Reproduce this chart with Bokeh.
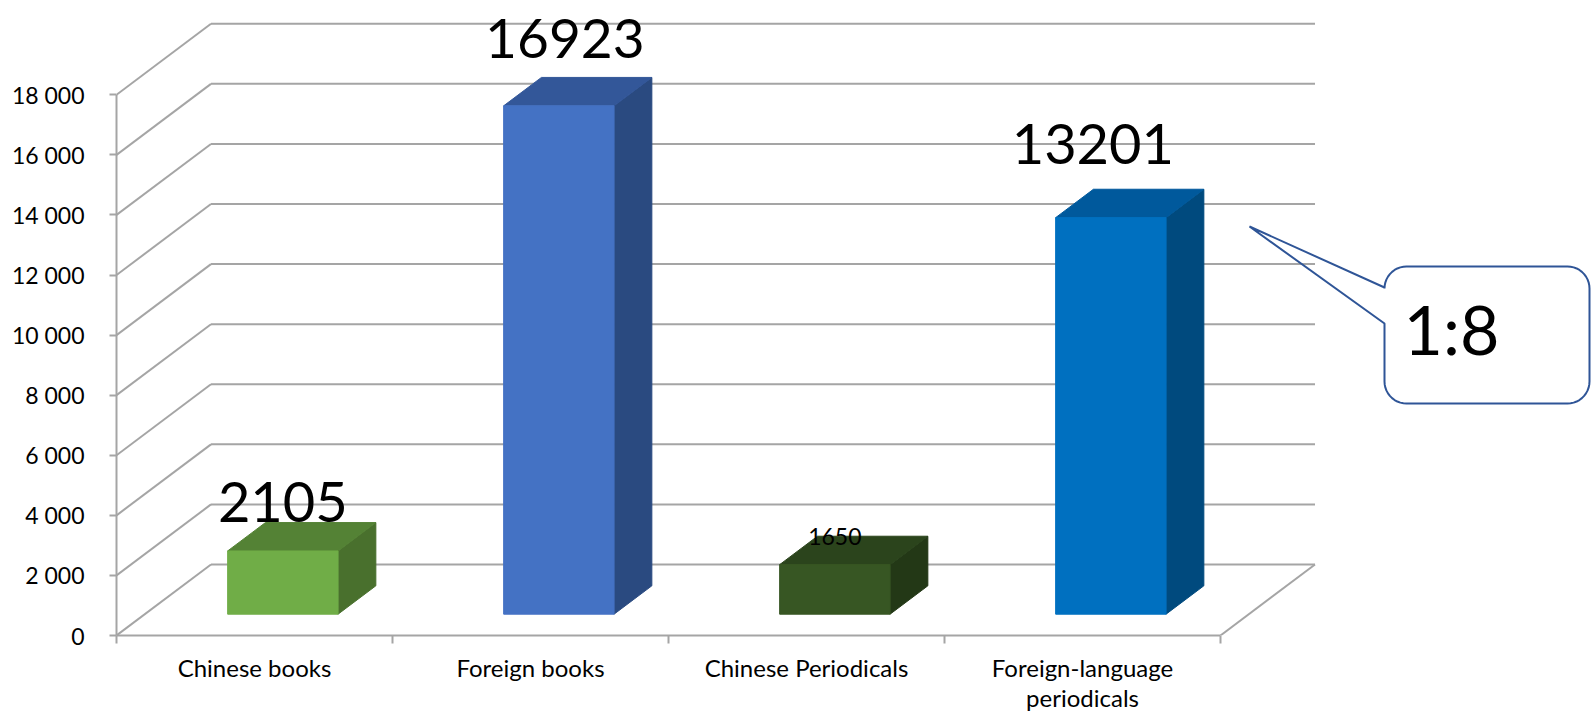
import numpy as np
from bokeh.plotting import figure
from bokeh.models import Range1d, FixedTicker
from bokeh.core.properties import value
from bokeh.embed import file_html
from bokeh.resources import INLINE

# ---------------- data ----------------
categories = ["Chinese books", "Foreign books", "Chinese Periodicals",
              "Foreign-language\nperiodicals"]
values = [2105, 16923, 1650, 13201]
value_labels = ["2105", "16923", "1650", "13201"]
y_ticks = [0, 2000, 4000, 6000, 8000, 10000, 12000, 14000, 16000, 18000]
y_tick_labels = ["0", "2 000", "4 000", "6 000", "8 000", "10 000",
                 "12 000", "14 000", "16 000", "18 000"]
callout_text = "1:8"

# ---------------- style ----------------
front_colors = ["#70AD47", "#4472C4", "#375623", "#0070C0"]
top_colors = ["#548235", "#335799", "#2B441C", "#00599C"]
side_colors = ["#49702D", "#2A4A80", "#233816", "#004A7E"]
label_sizes = [56, 55, 23, 56]
label_dx_px = [0, 6, 0, -18]      # label nudges in pixels
label_dy_px = [0, 19, -9, 25]
BASE_FIX = 0.37                   # em correction for text baseline
GRID = "#A5A5A5"
FONT = "Lato"

W, H = 1593, 714
LEFT, BOTTOM = 116, 79
PX_CAT = 276.0          # pixels per category
PX_VAL = 0.03004        # pixels per value unit
DEPTH_PX_X, DEPTH_PX_Y = 94.5, 71.0
DX = DEPTH_PX_X / PX_CAT
DY = DEPTH_PX_Y / PX_VAL
Z0, Z1 = 0.30, 0.70     # bar depth (fraction of floor depth)
BAR_W = 0.40

n = len(categories)
xmax = (W - LEFT) / PX_CAT
ymax = (H - BOTTOM) / PX_VAL

p = figure(width=W, height=H, x_range=Range1d(0, xmax), y_range=Range1d(0, ymax),
           output_backend="svg", toolbar_location=None,
           min_border_left=LEFT, min_border_bottom=BOTTOM,
           min_border_top=0, min_border_right=0)
p.outline_line_color = None
p.grid.visible = False
p.background_fill_color = "white"
p.border_fill_color = "white"

# ---------------- axes ----------------
ya = p.yaxis[0]
ya.ticker = FixedTicker(ticks=y_ticks, minor_ticks=[])
ya.major_label_overrides = {t: s for t, s in zip(y_ticks, y_tick_labels)}
ya.bounds = (y_ticks[0], y_ticks[-1])
ya.axis_line_color = GRID
ya.axis_line_width = 2
ya.major_tick_line_color = GRID
ya.major_tick_line_width = 2
ya.major_tick_out = 7
ya.major_tick_in = 0
ya.minor_tick_line_color = None
ya.major_label_standoff = 25
ya.major_label_text_font = FONT
ya.major_label_text_font_size = "23px"
ya.major_label_text_color = "black"

xa = p.xaxis[0]
centers = [i + 0.5 for i in range(n)]
xa.ticker = FixedTicker(ticks=centers, minor_ticks=list(range(n + 1)))
xa.major_label_overrides = {c: s for c, s in zip(centers, categories)}
xa.bounds = (0, n)
xa.axis_line_color = GRID
xa.axis_line_width = 2
xa.major_tick_line_color = None
xa.major_tick_out = 0
xa.major_tick_in = 0
xa.minor_tick_line_color = GRID
xa.minor_tick_line_width = 2
xa.minor_tick_out = 8
xa.minor_tick_in = 0
xa.major_label_standoff = 9
xa.major_label_text_font = FONT
xa.major_label_text_font_size = "24px"
xa.major_label_text_color = "black"
xa.major_label_text_line_height = 1.04

# ---------------- walls / floor ----------------
xs, ys = [], []
for t in y_ticks:
    xs.append([DX, n + DX]); ys.append([t + DY, t + DY])      # back wall
    xs.append([0, DX]); ys.append([t, t + DY])                # left wall
xs.append([n, n + DX]); ys.append([0, DY])                    # floor right edge
p.multi_line(xs, ys, line_color=GRID, line_width=2)

# ---------------- 3D bars ----------------
fx0, fx1, fb, ft = [], [], [], []
top_x, top_y, side_x, side_y = [], [], [], []
for i, v in enumerate(values):
    x0 = i + 0.5 - BAR_W / 2
    x1 = i + 0.5 + BAR_W / 2
    fx0.append(x0 + Z0 * DX); fx1.append(x1 + Z0 * DX)
    fb.append(Z0 * DY); ft.append(v + Z0 * DY)
    top_x.append([x0 + Z0 * DX, x1 + Z0 * DX, x1 + Z1 * DX, x0 + Z1 * DX])
    top_y.append([v + Z0 * DY, v + Z0 * DY, v + Z1 * DY, v + Z1 * DY])
    side_x.append([x1 + Z0 * DX, x1 + Z1 * DX, x1 + Z1 * DX, x1 + Z0 * DX])
    side_y.append([Z0 * DY, Z1 * DY, v + Z1 * DY, v + Z0 * DY])

p.patches(side_x, side_y, fill_color=side_colors, line_color=side_colors, line_width=1)
p.patches(top_x, top_y, fill_color=top_colors, line_color=top_colors, line_width=1)
p.quad(left=fx0, right=fx1, bottom=fb, top=ft, fill_color=front_colors,
       line_color=front_colors, line_width=1)

# ---------------- value labels ----------------
lx = [i + 0.5 + Z0 * DX + dx / PX_CAT for i, dx in enumerate(label_dx_px)]
ly = [v + Z1 * DY + (dy + BASE_FIX * s) / PX_VAL
      for v, dy, s in zip(values, label_dy_px, label_sizes)]
p.text(x=lx, y=ly, text=value_labels, text_font=value(FONT),
       text_font_size=[f"{s}px" for s in label_sizes], text_color="black",
       text_align="center", text_baseline="alphabetic")

# ---------------- callout ----------------
def to_data(px, py):
    return (np.asarray(px) - LEFT) / PX_CAT, ((H - BOTTOM) - np.asarray(py)) / PX_VAL

TIP = (1249, 226)
L, R, T, B, RAD = 1384, 1589, 266, 403, 22
Y1, Y2 = 287, 323
CALLOUT_SIZE = 68

def arc(cx, cy, a0, a1):
    a = np.linspace(np.radians(a0), np.radians(a1), 12)
    return list(cx + RAD * np.cos(a)), list(cy + RAD * np.sin(a))

px, py = [TIP[0], L], [TIP[1], Y1]
for (cx, cy, a0, a1) in [(L + RAD, T + RAD, 180, 270), (R - RAD, T + RAD, 270, 360),
                         (R - RAD, B - RAD, 0, 90), (L + RAD, B - RAD, 90, 180)]:
    ax, ay = arc(cx, cy, a0, a1)
    px += ax; py += ay
px += [L, TIP[0]]; py += [Y2, TIP[1]]
cx_d, cy_d = to_data(px, py)
p.patch(list(cx_d), list(cy_d), fill_color="white", fill_alpha=0.0,
        line_color="#2F5597", line_width=2)
tx, ty = to_data([1451], [353 - BASE_FIX * CALLOUT_SIZE])
p.text(x=list(tx), y=list(ty), text=[callout_text], text_font=value(FONT),
       text_font_size=f"{CALLOUT_SIZE}px", text_color="black", text_align="center",
       text_baseline="alphabetic")

open("out.html", "w").write(file_html(p, INLINE))
